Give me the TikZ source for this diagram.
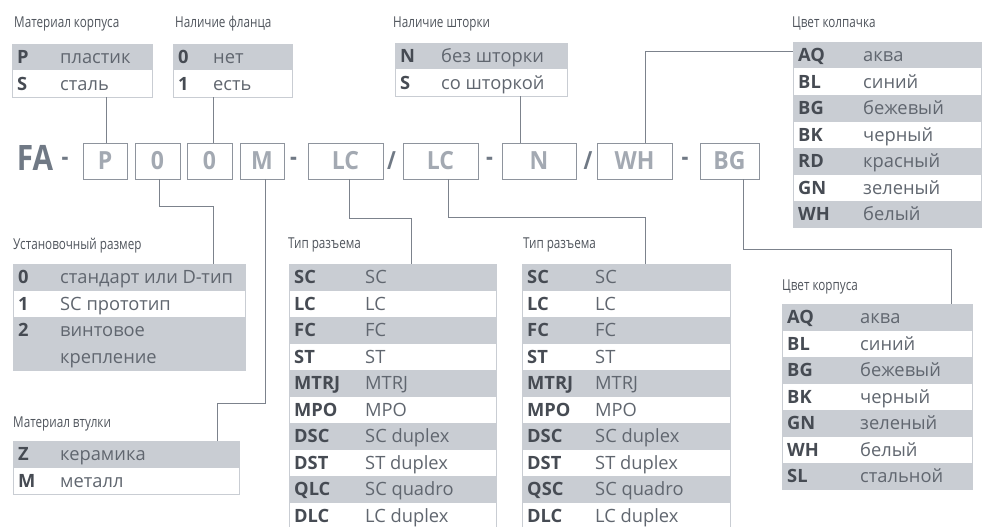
\documentclass[tikz,border=0pt]{standalone}
\usepackage{fontspec}
\setmainfont{Open Sans}
\newfontfamily\condfont[FakeStretch=0.78]{Open Sans}
\newfontfamily\fafont[FakeStretch=0.85]{Open Sans}
\newfontfamily\boxfont[FakeStretch=0.92]{Open Sans}
\definecolor{rowgray}{HTML}{C9CDD3}
\definecolor{codecol}{HTML}{464B53}
\definecolor{valcol}{HTML}{60666F}
\definecolor{labcol}{HTML}{50555D}
\definecolor{linecol}{HTML}{7C828C}
\definecolor{boxtxt}{HTML}{A3A9B2}
\definecolor{boxline}{HTML}{8E949D}
\definecolor{facol}{HTML}{707985}
\tikzset{
 rowbox/.style={draw=none, inner sep=0, outer sep=0, minimum height=26.5pt, anchor=north west},
 outline/.style={draw=rowgray, line width=0.8pt, inner sep=0, outer sep=0, anchor=north west},
 codetxt/.style={anchor=base west, inner sep=0, font=\fontsize{18.3}{18}\selectfont\bfseries, text=codecol},
 valtxt/.style={anchor=base west, inner sep=0, font=\fontsize{18.3}{18}\selectfont, text=valcol},
 lab/.style={anchor=base west, inner sep=0, font=\condfont\fontsize{15}{15}\selectfont, text=labcol},
 codebox/.style={draw=boxline, line width=0.9pt, minimum height=36pt, inner sep=0, font=\boxfont\bfseries\fontsize{25}{25}\selectfont, text=boxtxt},
 sepsym/.style={font=\fafont\bfseries\fontsize{25}{25}\selectfont, text=facol, inner sep=0},
 conn/.style={draw=linecol, line width=0.9pt},
}
\newcommand\codetable[7]{%
  \foreach \cc/\vv [count=\ii] in {#7} {
    \pgfmathsetmacro\yy{#3+(\ii-1)*26.5}
    \ifodd\ii\def\ff{rowgray}\else\def\ff{white}\fi
    \node[rowbox, fill=\ff, minimum width=#4pt] (#1r\ii) at (#2,\yy) {};
    \node[codetxt] (#1c\ii) at ([xshift=5pt,yshift=-6.5pt]#1r\ii.west) {\cc};
    \node[valtxt] (#1v\ii) at ([xshift=#5pt,yshift=-6.5pt]#1r\ii.west) {\vv};
  }
  \node[outline, minimum width=#4pt, minimum height=#6*26.5pt] (#1) at (#2,#3) {};
}
\begin{document}
\begin{tikzpicture}[x=1pt,y=-1pt]
\useasboundingbox (0,0) rectangle (983,527);
\clip (0,0) rectangle (983,527);
\fill[white] (0,0) rectangle (983,527);

% labels
\node[lab] (lA) at (14,28) {Материал корпуса};
\node[lab] (lB) at (175,28) {Наличие фланца};
\node[lab] (lC) at (393,28) {Наличие шторки};
\node[lab] (lI) at (792,28) {Цвет колпачка};
\node[lab] (lD) at (13,249) {Установочный размер};
\node[lab] (lE) at (13,427) {Материал втулки};
\node[lab] (lF) at (288,248) {Тип разъема};
\node[lab] (lG) at (523,248) {Тип разъема};
\node[lab] (lH) at (782,290) {Цвет корпуса};

% tables
\codetable{tA}{12}{44}{140}{48}{2}{P/пластик, S/сталь}
\codetable{tB}{173}{44}{119}{40}{2}{0/нет, 1/есть}
\codetable{tC}{395}{43}{172}{46}{2}{N/без шторки, S/со шторкой}
\codetable{tI}{793}{42}{188}{70}{7}{AQ/аква, BL/синий, BG/бежевый, BK/черный, RD/красный, GN/зеленый, WH/белый}
\codetable{tE}{13}{441}{226}{47}{2}{Z/керамика, M/металл}
\codetable{tF}{289}{264}{207}{76}{10}{SC/SC, LC/LC, FC/FC, ST/ST, MTRJ/MTRJ, MPO/MPO, DSC/SC duplex, DST/ST duplex, QLC/SC quadro, DLC/LC duplex}
\codetable{tG}{522}{264}{208}{73}{10}{SC/SC, LC/LC, FC/FC, ST/ST, MTRJ/MTRJ, MPO/MPO, DSC/SC duplex, DST/ST duplex, QSC/SC quadro, DLC/LC duplex}
\codetable{tH}{782}{304}{190}{78}{7}{AQ/аква, BL/синий, BG/бежевый, BK/черный, GN/зеленый, WH/белый, SL/стальной}

% table D (mounting size) with a two-line row
\node[rowbox, fill=rowgray, minimum width=232pt] (tDr1) at (13,264) {};
\node[rowbox, fill=white, minimum width=232pt] (tDr2) at (13,290.5) {};
\node[rowbox, fill=rowgray, minimum width=232pt, minimum height=53pt] (tDr3) at (13,317) {};
\node[codetxt] (tDc1) at ([xshift=5pt,yshift=-6.5pt]tDr1.west) {0};
\node[valtxt] (tDv1) at ([xshift=47pt,yshift=-6.5pt]tDr1.west) {стандарт или D-тип};
\node[codetxt] (tDc2) at ([xshift=5pt,yshift=-6.5pt]tDr2.west) {1};
\node[valtxt] (tDv2) at ([xshift=47pt,yshift=-6.5pt]tDr2.west) {SC прототип};
\node[codetxt] (tDc3) at ([xshift=5pt,yshift=-19.75pt]tDr3.north west) {2};
\node[valtxt] (tDv3) at ([xshift=47pt,yshift=-19.75pt]tDr3.north west) {винтовое};
\node[valtxt] (tDv4) at ([xshift=47pt,yshift=-46.25pt]tDr3.north west) {крепление};
\node[outline, minimum width=232pt, minimum height=106pt] (tD) at (13,264) {};

% code row
\node[font=\fafont\bfseries\fontsize{35}{35}\selectfont, text=facol, inner sep=0] (fa) at (35,157.5) {FA};
\node[sepsym] (d1) at (65,161) {-};
\node[codebox, minimum width=44pt] (bP) at (105,161) {P};
\node[codebox, minimum width=45pt] (b0a) at (157.5,161) {0};
\node[codebox, minimum width=45pt] (b0b) at (209.5,161) {0};
\node[codebox, minimum width=44pt] (bM) at (262,161) {M};
\node[sepsym] (d2) at (293.5,161) {-};
\node[codebox, minimum width=75pt] (bLCa) at (345.5,161) {LC};
\node[sepsym] (s1) at (391.5,161) {/};
\node[codebox, minimum width=75pt] (bLCb) at (440.5,161) {LC};
\node[sepsym] (d3) at (489.5,161) {-};
\node[codebox, minimum width=74pt] (bN) at (539,161) {N};
\node[sepsym] (s2) at (588,161) {/};
\node[codebox, minimum width=75pt] (bWH) at (634.5,161) {WH};
\node[sepsym] (d4) at (685,161) {-};
\node[codebox, minimum width=59pt] (bBG) at (729.5,161) {BG};

% connectors
\draw[conn] ([xshift=1pt]bP.north) -- ([xshift=1pt]bP.north |- tA.south);
\draw[conn] ([xshift=3.5pt]b0b.north) -- ([xshift=3.5pt]b0b.north |- tB.south);
\draw[conn] ([xshift=-19pt]bN.north) -- ([xshift=-19pt]bN.north |- tC.south);
\draw[conn] ([xshift=10.5pt]bWH.north) |- ([yshift=-9pt]tI.north west);
\draw[conn] ([xshift=1.5pt]b0a.south) -- ++(0,27) -| ([xshift=200pt]tD.north west);
\draw[conn] ([xshift=3pt]bM.south) -- ++(0,224) -| ([xshift=204pt]tE.north west);
\draw[conn] ([xshift=3.5pt]bLCa.south) -- ++(0,39) -| ([xshift=122pt]tF.north west);
\draw[conn] ([xshift=7.5pt]bLCb.south) -- ++(0,38) -| ([xshift=123pt]tG.north west);
\draw[conn] ([xshift=13.5pt]bBG.south) -- ++(0,70) -| ([xshift=169pt]tH.north west);
\end{tikzpicture}
\end{document}
